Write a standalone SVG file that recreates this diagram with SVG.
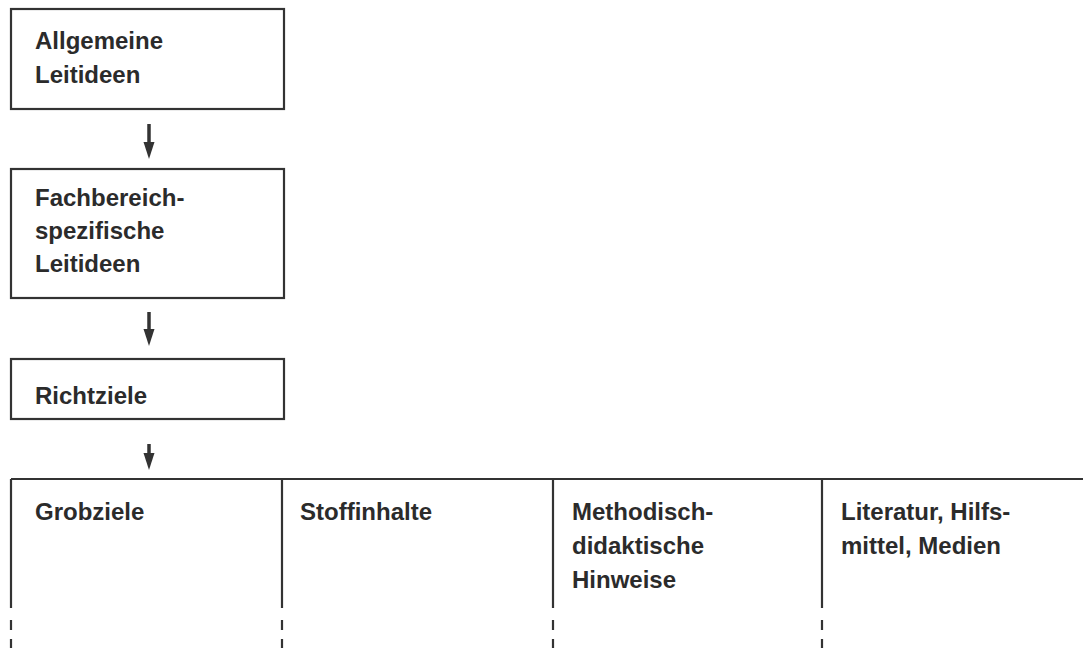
<svg xmlns="http://www.w3.org/2000/svg" width="1083" height="648" viewBox="0 0 1083 648">
<defs>
<style>
.box{fill:#fff;stroke:#333;stroke-width:2.2}
.ln{stroke:#333;stroke-width:2.2;fill:none}
.t{font-family:"Liberation Sans",Arial,sans-serif;font-weight:bold;font-size:24px;fill:#2b2b2b}
.sh{stroke:#333;stroke-width:3.5}
.hd{fill:#333}
</style>
</defs>
<rect width="1083" height="648" fill="#fff"/>
<g id="node-allgemeine">
<rect class="box" x="11" y="9" width="273" height="100"/>
<text class="t" x="35" y="49">Allgemeine</text>
<text class="t" x="35" y="83">Leitideen</text>
</g>
<g id="node-fachbereich">
<rect class="box" x="11" y="169" width="273" height="129"/>
<text class="t" x="35" y="206">Fachbereich-</text>
<text class="t" x="35" y="239">spezifische</text>
<text class="t" x="35" y="272">Leitideen</text>
</g>
<g id="node-richtziele">
<rect class="box" x="11" y="359" width="273" height="60"/>
<text class="t" x="35" y="404">Richtziele</text>
</g>
<g id="node-table">
<path class="ln" d="M11 479 H1083 M11 479 V608 M282 479 V608 M553 479 V608 M822 479 V608"/>
<path class="ln" d="M11 620 V630 M282 620 V630 M553 620 V630 M822 620 V630 M11 639 V648 M282 639 V648 M553 639 V648 M822 639 V648"/>
<text class="t" x="35" y="520">Grobziele</text>
<text class="t" x="300" y="520">Stoffinhalte</text>
<text class="t" x="572" y="520">Methodisch-</text>
<text class="t" x="572" y="554">didaktische</text>
<text class="t" x="572" y="588">Hinweise</text>
<text class="t" x="841" y="520">Literatur, Hilfs-</text>
<text class="t" x="841" y="554">mittel, Medien</text>
</g>
<g id="connectors">
<line class="sh" x1="149" y1="124" x2="149" y2="146"/>
<path class="hd" d="M143.5 142 H154.5 L149 159 Z"/>
<line class="sh" x1="149" y1="312" x2="149" y2="333"/>
<path class="hd" d="M143.5 329 H154.5 L149 346 Z"/>
<line class="sh" x1="149" y1="444" x2="149" y2="457"/>
<path class="hd" d="M143.5 453 H154.5 L149 470 Z"/>
</g>
</svg>
